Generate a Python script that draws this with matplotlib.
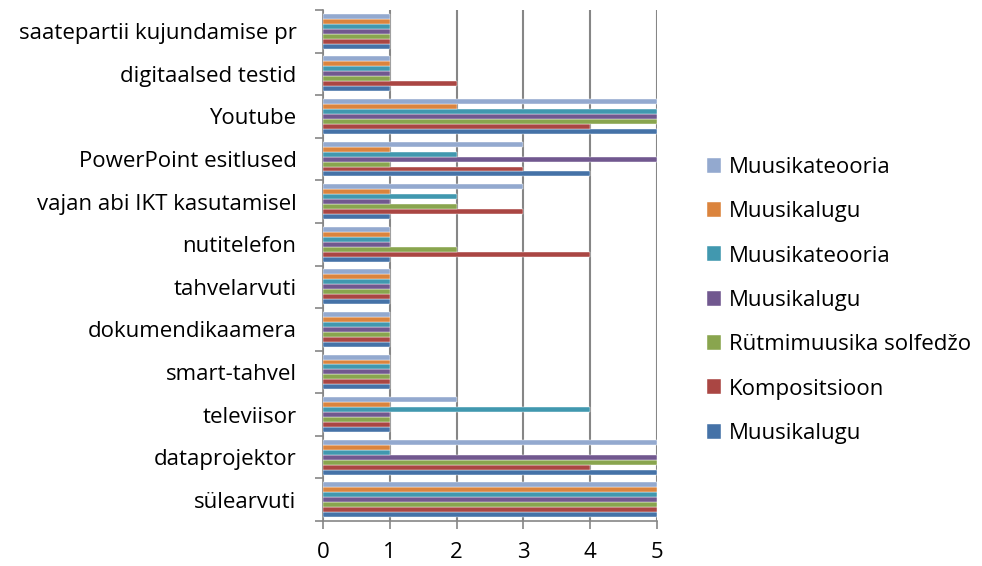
import numpy as np
import matplotlib
matplotlib.use("Agg")
import matplotlib.pyplot as plt

plt.rcParams['font.family'] = ['Open Sans', 'DejaVu Sans']

categories = ["sülearvuti", "dataprojektor", "televiisor", "smart-tahvel",
              "dokumendikaamera", "tahvelarvuti", "nutitelefon",
              "vajan abi IKT kasutamisel", "PowerPoint esitlused", "Youtube",
              "digitaalsed testid", "saatepartii kujundamise pr"]

# series in drawing order (bottom bar of each group first)
series_names = ["Muusikalugu", "Kompositsioon", "Rütmimuusika solfedžo",
                "Muusikalugu", "Muusikateooria", "Muusikalugu", "Muusikateooria"]

s1_blue = [5, 5, 1, 1, 1, 1, 1, 1, 4, 5, 1, 1]
s2_red = [5, 4, 1, 1, 1, 1, 4, 3, 3, 4, 2, 1]
s3_green = [5, 5, 1, 1, 1, 1, 2, 2, 1, 5, 1, 1]
s4_purple = [5, 5, 1, 1, 1, 1, 1, 1, 5, 5, 1, 1]
s5_teal = [5, 1, 4, 1, 1, 1, 1, 2, 2, 5, 1, 1]
s6_orange = [5, 1, 1, 1, 1, 1, 1, 1, 1, 2, 1, 1]
s7_light = [5, 5, 2, 1, 1, 1, 1, 3, 3, 5, 1, 1]

values = [s1_blue, s2_red, s3_green, s4_purple, s5_teal, s6_orange, s7_light]
colors = ["#4572A7", "#AA4643", "#89A54E", "#71588F", "#4198AF", "#DB843D", "#93A9CF"]

fig = plt.figure(figsize=(9.82, 5.66), dpi=100)
ax = fig.add_axes([323 / 982, 45 / 566, 334 / 982, 511 / 566])

n = len(series_names)
h = 0.117
y = np.arange(len(categories))
handles = []
for i, (vals, c, name) in enumerate(zip(values, colors, series_names)):
    off = (i - (n - 1) / 2) * h
    b = ax.barh(y + off, vals, height=h, color=c, label=name, zorder=3,
                edgecolor='white', linewidth=0.3)
    handles.append(b)

ax.set_xlim(0, 5)
ax.set_ylim(-0.5, len(categories) - 0.5)
ax.set_xticks(range(6))
ax.set_yticks(y)
ax.set_yticklabels(categories, fontsize=16)
ax.set_yticks(np.arange(-0.5, len(categories)), minor=True)
ax.tick_params(axis='y', which='major', length=0, pad=19)
ax.tick_params(axis='y', which='minor', length=6, color='#868686', width=1.2)
ax.tick_params(axis='x', length=6, color='#868686', width=1.2, labelsize=16, pad=9)
ax.xaxis.grid(True, color='#868686', linewidth=1.5, zorder=0)
for s in ['top', 'right']:
    ax.spines[s].set_visible(False)
for s in ['left', 'bottom']:
    ax.spines[s].set_color('#868686')
    ax.spines[s].set_linewidth(1.2)

leg = fig.legend(handles[::-1], series_names[::-1], loc='center left',
                 bbox_to_anchor=(687 / 982, 0.469), frameon=False, fontsize=16,
                 handlelength=0.65, handleheight=0.65, labelspacing=1.05,
                 handletextpad=0.35)

fig.savefig("out.png", dpi=100)
